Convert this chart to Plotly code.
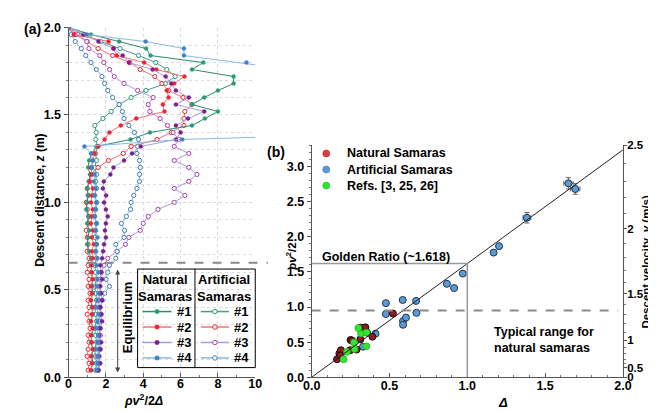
import plotly.graph_objects as go

W, H = 656, 412
FONT = "Liberation Sans, Arial, sans-serif"

# ---------------- panel (a) data ----------------
Z = [2.00, 1.96, 1.92, 1.88, 1.84, 1.80, 1.76, 1.72, 1.68, 1.64,
     1.60, 1.56, 1.52, 1.48, 1.44, 1.40, 1.36, 1.32, 1.28, 1.24,
     1.20, 1.16, 1.12, 1.08, 1.04, 1.00, 0.96, 0.92, 0.88, 0.84,
     0.80, 0.76, 0.72, 0.68, 0.64, 0.60, 0.56, 0.52, 0.48, 0.44,
     0.40, 0.36, 0.32, 0.28, 0.24, 0.20, 0.16, 0.12, 0.08, 0.04]

NAT1 = [0.0, 1.2, 2.71, 4.15, 4.39, 7.22, 6.61, 8.84, 8.84, 8.0,
        7.27, 6.61, 8.0, 7.3, 6.61, 4.36, 3.32, 1.49, 1.25, 1.1,
        1.05, 1.15, 1.1, 1.0, 1.05, 1.0, 0.95, 1.05, 1.0, 1.1,
        1.05, 1.0, 1.1, 1.2, 1.25, 1.2, 1.3, 1.25, 1.3, 1.2,
        1.25, 1.3, 1.2, 1.3, 1.25, 1.2, 1.3, 1.25, 1.3, 1.2]
ART1 = [0.0, 0.8, 1.72, 2.76, 3.75, 4.67, 5.26, 5.71, 5.19, 4.15,
        3.35, 2.71, 2.28, 1.84, 1.41, 1.49, 1.45, 1.55, 1.45, 1.5,
        1.4, 1.5, 1.45, 1.5, 1.4, 1.5, 1.45, 1.4, 1.5, 1.45,
        1.4, 1.5, 1.45, 1.5, 1.4, 1.45, 1.5, 1.4, 1.45, 1.5,
        1.4, 1.45, 1.5, 1.4, 1.45, 1.5, 1.4, 1.45, 1.5, 1.45]
NAT2 = [0.0, 0.28, 2.14, 2.4, 2.59, 4.05, 4.7, 6.21, 5.66, 5.26,
        5.36, 5.05, 5.14, 3.63, 2.8, 2.19, 1.93, 1.6, 1.4, 1.3,
        1.2, 1.25, 1.15, 1.3, 1.25, 1.2, 1.3, 1.25, 1.2, 1.3,
        1.25, 1.35, 1.25, 1.3, 1.2, 1.25, 1.3, 1.2, 1.25, 1.2,
        1.3, 1.25, 1.2, 1.3, 1.2, 1.25, 1.3, 1.2, 1.25, 1.2]
ART2 = [0.0, 0.5, 1.0, 1.58, 2.36, 3.28, 3.84, 4.62, 5.0, 5.36,
        6.13, 6.61, 6.23, 6.18, 6.18, 5.5, 4.74, 3.35, 2.93, 2.14,
        1.58, 1.2, 1.1, 1.0, 1.05, 0.95, 1.0, 1.1, 1.05, 0.95,
        1.0, 1.05, 1.0, 1.1, 1.05, 1.0, 1.1, 1.05, 1.15, 1.05,
        1.1, 1.0, 1.1, 1.15, 1.05, 1.1, 1.05, 1.0, 1.1, 1.05]
NAT3 = [0.0, 0.8, 1.6, 2.41, 2.9, 3.23, 4.5, 5.2, 5.5, 5.75,
        6.44, 5.75, 7.27, 6.4, 5.75, 6.0, 5.75, 3.87, 3.4, 2.97,
        2.41, 2.24, 1.89, 1.84, 2.01, 1.9, 2.0, 2.1, 2.0, 1.95,
        2.0, 1.9, 1.85, 1.8, 1.7, 1.75, 1.8, 1.7, 1.75, 1.8,
        1.7, 1.75, 1.8, 1.7, 1.65, 1.75, 1.7, 1.65, 1.7, 1.6]
ART3 = [0.0, 0.35, 0.97, 1.09, 1.67, 1.89, 2.2, 2.45, 2.97, 3.7,
        4.53, 4.27, 4.36, 4.9, 5.3, 5.6, 5.9, 5.66, 6.44, 5.66,
        6.44, 6.875, 6.44, 5.66, 6.23, 5.66, 4.79, 4.27, 4.0, 3.84,
        3.23, 3.05, 2.6, 2.1, 1.9, 1.75, 1.7, 1.65, 1.7, 1.6,
        1.65, 1.7, 1.6, 1.65, 1.7, 1.6, 1.65, 1.55, 1.6, 1.55]
NAT4 = [0.0, 0.97, 4.13, 6.18, 6.18, 9.53, 11.9, 14.0, 16.0, 18.0,
        20.0, 22.0, 21.0, 20.0, 19.5, 19.1, 6.09, 0.85, 1.2, 1.3,
        1.25, 1.4, 1.35, 1.45, 1.4, 1.5, 1.45, 1.4, 1.5, 1.45,
        1.55, 1.5, 1.45, 1.55, 1.5, 1.6, 1.55, 1.5, 1.6, 1.55,
        1.5, 1.6, 1.55, 1.5, 1.6, 1.55, 1.5, 1.6, 1.55, 1.5]
ART4 = [0.0, 0.15, 0.36, 0.68, 0.92, 1.2, 1.49, 1.79, 1.93, 2.1,
        2.36, 2.71, 2.88, 2.97, 3.23, 3.53, 3.75, 3.7, 3.66, 3.8,
        3.84, 3.8, 3.8, 3.66, 3.49, 3.35, 3.32, 3.1, 2.83, 3.0,
        2.97, 2.53, 2.6, 2.53, 2.19, 2.1, 2.01, 2.19, 1.93, 1.8,
        1.7, 1.75, 1.65, 1.7, 1.6, 1.65, 1.7, 1.6, 1.65, 1.6]

EQUILIBRIUM_Z = 0.655
SERIES_LABELS = ["#1", "#2", "#3", "#4"]

# ---------------- panel (b) data ----------------
NAT_DELTA = [0.163, 0.178, 0.188, 0.185, 0.25, 0.26, 0.247, 0.288, 0.313, 0.345, 0.355, 0.313, 0.39, 0.522]
NAT_PV = [0.256, 0.339, 0.385, 0.31, 0.531, 0.52, 0.385, 0.394, 0.705, 0.71, 0.637, 0.54, 0.578, 0.907]
REF_DELTA = [0.205, 0.226, 0.272, 0.276, 0.317, 0.352, 0.351, 0.30]
REF_PV = [0.256, 0.362, 0.495, 0.403, 0.623, 0.637, 0.44, 0.70]
ART_DELTA = [0.33, 0.41, 0.477, 0.477, 0.585, 0.587, 0.587, 0.606, 0.671, 0.673, 0.869, 0.915, 0.971, 1.169, 1.204]
ART_PV = [0.435, 0.62, 1.055, 0.90, 1.10, 0.80, 0.747, 0.85, 1.087, 0.917, 1.33, 1.27, 1.476, 1.774, 1.866]
ERR_DELTA = [1.383, 1.65, 1.694]
ERR_PV = [2.27, 2.76, 2.68]
ERR_X = [0.025, 0.03, 0.03]
ERR_Y = [0.075, 0.08, 0.075]

GOLDEN = 1.618
TYPICAL_PV = 0.95
V_TICKS = [0, 0.5, 1, 1.5, 2, 2.5]
V_MINOR = [0.6, 0.7, 0.8, 0.9, 1.1, 1.2, 1.3, 1.4, 1.6, 1.7, 1.8, 1.9, 2.1, 2.2, 2.3, 2.4]
PV_MAX = 3.3
K_V = PV_MAX / V_TICKS[-1] ** 2   # right axis: rho v^2 / 2 = K_V * v^2

# ---------------- layout geometry (pixels) ----------------
A_L, A_R, A_B, A_T = 53, 245, 375, 13
B_L, B_R, B_B, B_T = 303, 623, 375, 135


def a_px_y(z):
    return A_B - (A_B - A_T) * z / 2.0


TEAL, TEAL_L = "#2a9a7c", "#2f8a70"
RED, RED_L = "#ee2436", "#ef7474"
PUR_N, PUR_A, PUR_L = "#7e1f8e", "#b03fb0", "#a79be0"
BLUE, BLUE_A, BLUE_L = "#3f80c8", "#3f7cbc", "#8ab8e6"

fig = go.Figure()

series = [
    (ART1, False, TEAL, "#4a9c88"),
    (ART2, False, RED, RED_L),
    (ART3, False, PUR_A, PUR_L),
    (ART4, False, BLUE_A, BLUE_L),
    (NAT1, True, TEAL, TEAL_L),
    (NAT2, True, RED, RED_L),
    (NAT3, True, PUR_N, PUR_L),
    (NAT4, True, BLUE, BLUE_L),
]
for xs, filled, mc, lc in series:
    fig.add_trace(go.Scatter(
        x=xs, y=Z, xaxis="x", yaxis="y", mode="lines+markers",
        line=dict(color=lc, width=1),
        marker=dict(size=4 if filled else 4.2, color=mc if filled else "white",
                    line=dict(color=mc, width=0.4 if filled else 1)),
        showlegend=False, hoverinfo="skip"))

# panel (b) scatter
fig.add_trace(go.Scatter(
    x=ART_DELTA, y=ART_PV, xaxis="x2", yaxis="y2", mode="markers",
    marker=dict(size=7, color="#5b9bd5", line=dict(color="#1f3550", width=1)),
    showlegend=False, hoverinfo="skip"))
fig.add_trace(go.Scatter(
    x=ERR_DELTA, y=ERR_PV, xaxis="x2", yaxis="y2", mode="markers",
    marker=dict(size=7, color="#5b9bd5", line=dict(color="#1f3550", width=1)),
    error_x=dict(type="data", array=ERR_X, color="#666", thickness=1, width=2.5),
    error_y=dict(type="data", array=ERR_Y, color="#666", thickness=1, width=2.5),
    showlegend=False, hoverinfo="skip"))
fig.add_trace(go.Scatter(
    x=NAT_DELTA, y=NAT_PV, xaxis="x2", yaxis="y2", mode="markers",
    marker=dict(size=7, color="#8e1b24", line=dict(color="#2a0a0a", width=1)),
    showlegend=False, hoverinfo="skip"))
fig.add_trace(go.Scatter(
    x=REF_DELTA, y=REF_PV, xaxis="x2", yaxis="y2", mode="markers",
    marker=dict(size=7, color="#2ee82e", line=dict(color="#1b9a1b", width=0.6)),
    showlegend=False, hoverinfo="skip"))
# invisible anchor for right axis
fig.add_trace(go.Scatter(x=[0], y=[0], xaxis="x2", yaxis="y3", mode="markers",
                         marker=dict(opacity=0), showlegend=False, hoverinfo="skip"))

# ---------------- legend (a), drawn in pixel overlay ----------------
ROWS_Y = [307, 323, 339, 355]
nat_cols = [(TEAL, TEAL_L), (RED, RED_L), (PUR_N, PUR_L), (BLUE, BLUE_L)]
art_cols = [(TEAL, "#4a9c88"), (RED, RED_L), (PUR_A, PUR_L), (BLUE_A, BLUE_L)]
annotations = []
for x0, x1, xt, filled in [(129, 159, 162, True), (189, 218, 221, False)]:
    styles = nat_cols if filled else art_cols
    for i, y in enumerate(ROWS_Y):
        mc, lc = styles[i]
        fig.add_trace(go.Scatter(x=[x0, x1], y=[y, y], xaxis="x4", yaxis="y4", mode="lines",
                                 line=dict(color=lc, width=1.5), showlegend=False, hoverinfo="skip"))
        fig.add_trace(go.Scatter(x=[(x0 + x1) / 2], y=[y], xaxis="x4", yaxis="y4", mode="markers",
                                 marker=dict(size=4.5, color=mc if filled else "white",
                                             line=dict(color=mc, width=0.4 if filled else 1)),
                                 showlegend=False, hoverinfo="skip"))
        annotations.append(dict(x=xt, y=y, xref="x4", yref="y4", text="<b>%s</b>" % SERIES_LABELS[i],
                                showarrow=False, xanchor="left", yanchor="middle",
                                font=dict(size=13, color="black", family=FONT)))

# legend (b)
for y, c, lc, label in [(143.3, "#e03a3a", "#a02020", "Natural Samaras"),
                        (160, "#5b9bd5", "#3a6a9a", "Artificial Samaras"),
                        (176.5, "#2ee82e", "#1fa01f", "Refs. [3, 25, 26]")]:
    fig.add_trace(go.Scatter(x=[318], y=[y], xaxis="x4", yaxis="y4", mode="markers",
                             marker=dict(size=7, color=c, line=dict(color=lc, width=0.5)),
                             showlegend=False, hoverinfo="skip"))
    annotations.append(dict(x=337, y=y, xref="x4", yref="y4", text="<b>%s</b>" % label,
                            showarrow=False, xanchor="left", yanchor="middle",
                            font=dict(size=12.5, color="black", family=FONT)))


def px_ann(x, y, text, size=12.5, angle=0, xanchor="center", align="center"):
    annotations.append(dict(x=x, y=y, xref="x4", yref="y4", text=text, showarrow=False,
                            xanchor=xanchor, yanchor="middle", textangle=angle, align=align,
                            borderpad=0,
                            font=dict(size=size, color="black", family=FONT)))


px_ann(16, 14, "<b>(a)</b>", size=14)
px_ann(266, 142, "<b>(b)</b>", size=14)
px_ann(24, 192, "<b>Descent distance, <i>z</i> (m)</b>", size=12, angle=-90)
px_ann(130, 399, "<b><i>ρv</i><sup>2</sup>/2<i>Δ</i></b>", size=12.5)
px_ann(152, 283, "<b>Natural<br>Samaras</b>", size=13)
px_ann(213, 283, "<b>Artificial<br>Samaras</b>", size=13)
px_ann(113, 313, "<b>Equilibrium</b>", size=13, angle=-90)
px_ann(281, 250, "<b><i>ρv</i><sup>2</sup>/2</b>", size=11.5, angle=-90)
px_ann(500, 401, "<b><i>Δ</i></b>", size=13)
px_ann(647, 255, "<b>Descent velocity, <i>v</i> (m/s)</b>", size=11.5, angle=-90)
px_ann(379, 250, "<b>Golden Ratio (~1.618)</b>", size=12.5)
px_ann(489, 336, "<b>Typical range for<br>natural samaras</b>", size=12.5, xanchor="left", align="left")

# equilibrium double arrow
annotations.append(dict(x=103.5, y=370, ax=103.5, ay=262, xref="x4", yref="y4",
                        axref="x4", ayref="y4", text="", showarrow=True,
                        arrowhead=2, startarrowhead=2, arrowside="end+start",
                        arrowsize=1, arrowwidth=1, arrowcolor="#444"))

shapes = [
    # dashed equilibrium line (a)
    dict(type="line", xref="x4", yref="y4", x0=A_L, x1=258,
         y0=a_px_y(EQUILIBRIUM_Z), y1=a_px_y(EQUILIBRIUM_Z),
         line=dict(color="#8a8a8a", width=2.2, dash="dash")),
    # legend box (a)
    dict(type="rect", xref="x4", yref="y4", x0=124, x1=245, y0=263, y1=365,
         line=dict(color="black", width=1), fillcolor="rgba(0,0,0,0)"),
    dict(type="line", xref="x4", yref="y4", x0=183, x1=183, y0=263, y1=365,
         line=dict(color="black", width=1)),
    # panel (b) reference lines
    dict(type="line", xref="x2", yref="y2", x0=0, x1=2.0, y0=0, y1=2.0 * GOLDEN,
         line=dict(color="#222", width=1)),
    dict(type="line", xref="x2", yref="y2", x0=0, x1=1.0, y0=GOLDEN, y1=GOLDEN,
         line=dict(color="#999", width=1.5)),
    dict(type="line", xref="x2", yref="y2", x0=1.0, x1=1.0, y0=0, y1=GOLDEN,
         line=dict(color="#999", width=1.5)),
    dict(type="line", xref="x2", yref="y2", x0=0, x1=1.97, y0=TYPICAL_PV, y1=TYPICAL_PV,
         line=dict(color="#8a8a8a", width=2.2, dash="dash")),
]

tickfont = dict(size=12.5, color="black", family=FONT, weight="bold")
tickfont_r = dict(size=11.5, color="black", family=FONT, weight="bold")
grid_a = dict(showgrid=True, gridcolor="#d9d9d9", griddash="dot", gridwidth=1)

fig.update_layout(
    width=W, height=H, autosize=False,
    margin=dict(l=0, r=0, t=0, b=0),
    paper_bgcolor="white", plot_bgcolor="rgba(0,0,0,0)",
    font=dict(family=FONT, color="black"),
    showlegend=False,
    xaxis=dict(domain=[A_L / W, A_R / W], range=[0, 10], anchor="y",
               tickvals=[0, 2, 4, 6, 8, 10], ticks="inside", ticklen=4, tickcolor="#555",
               ticklabelstandoff=-5,
               minor=dict(dtick=1, ticks="inside", ticklen=2, tickcolor="#777", showgrid=False),
               showline=True, linecolor="#555", linewidth=1, zeroline=False,
               tickfont=tickfont, **grid_a),
    yaxis=dict(domain=[1 - A_B / H, 1 - A_T / H], range=[0, 2.0], anchor="x",
               tickvals=[0, 0.5, 1.0, 1.5, 2.0], tickformat=".1f",
               ticks="outside", ticklen=4, tickcolor="#555",
               minor=dict(dtick=0.1, ticks="outside", ticklen=2, tickcolor="#777",
                          showgrid=True, gridcolor="#dcdcdc", griddash="dot"),
               showline=True, linecolor="#555", linewidth=1, zeroline=False,
               tickfont=tickfont, **grid_a),
    xaxis2=dict(domain=[B_L / W, B_R / W], range=[0, 2.0], anchor="y2",
                tickvals=[0, 0.5, 1.0, 1.5, 2.0], tickformat=".1f",
                ticks="inside", ticklen=4, tickcolor="#555", ticklabelstandoff=-3,
                minor=dict(dtick=0.1, ticks="inside", ticklen=2, tickcolor="#777"),
                showline=True, linecolor="#555", linewidth=1, zeroline=False, showgrid=False,
                tickfont=tickfont),
    yaxis2=dict(domain=[1 - B_B / H, 1 - B_T / H], range=[0, PV_MAX], anchor="x2",
                tickvals=[0, 0.5, 1.0, 1.5, 2.0, 2.5, 3.0], tickformat=".1f",
                ticks="outside", ticklen=4, tickcolor="#555",
                minor=dict(dtick=0.1, ticks="outside", ticklen=2, tickcolor="#777"),
                showline=True, linecolor="#555", linewidth=1, zeroline=False, showgrid=False,
                tickfont=tickfont),
    yaxis3=dict(overlaying="y2", side="right", anchor="x2", range=[0, PV_MAX],
                tickmode="array", tickvals=[K_V * v * v for v in V_TICKS],
                ticktext=["%g" % v for v in V_TICKS],
                ticks="outside", ticklen=3, tickcolor="#555", ticklabelstandoff=-2,
                minor=dict(tickmode="array", tickvals=[K_V * v * v for v in V_MINOR],
                           ticks="outside", ticklen=2, tickcolor="#777"),
                showline=True, linecolor="#555", linewidth=1, zeroline=False, showgrid=False,
                tickfont=tickfont_r),
    xaxis4=dict(domain=[0, 1], range=[0, W], anchor="y4", visible=False, fixedrange=True),
    yaxis4=dict(domain=[0, 1], range=[H, 0], anchor="x4", visible=False, fixedrange=True),
    annotations=annotations,
    shapes=shapes,
)

fig.write_html("out.html")
